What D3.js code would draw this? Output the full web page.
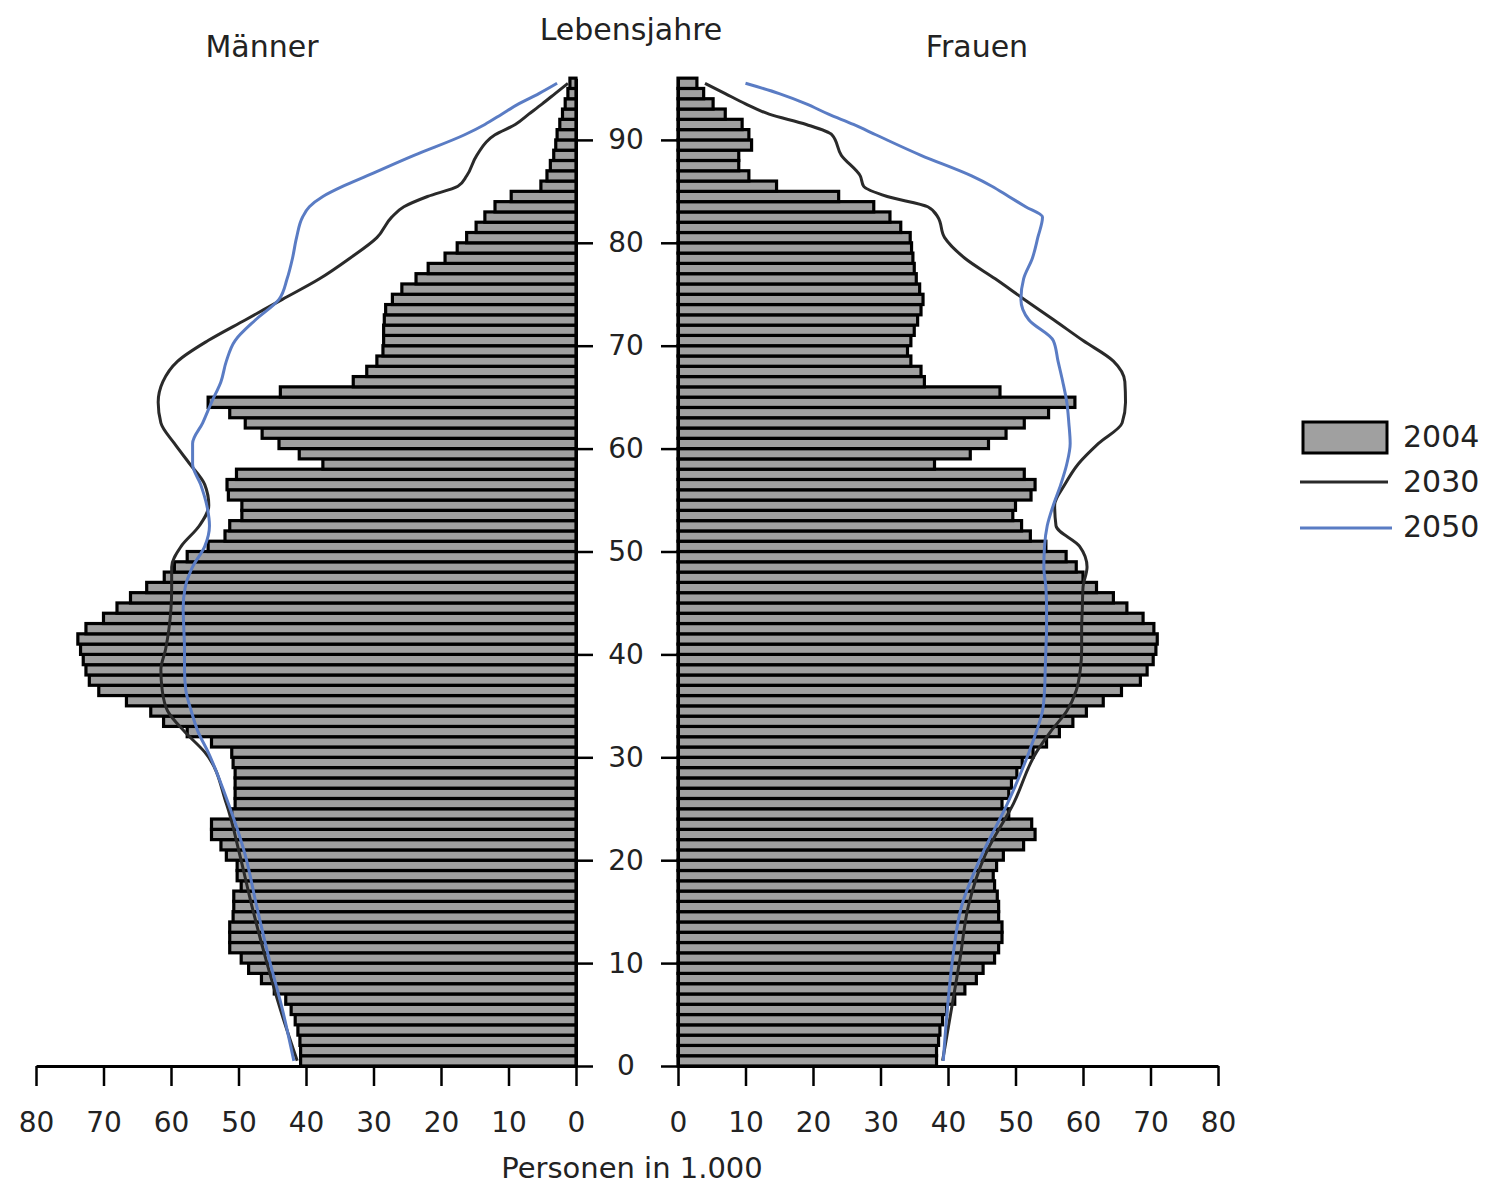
<!DOCTYPE html>
<html>
<head>
<meta charset="utf-8">
<script src="https://cdn.jsdelivr.net/npm/d3@7"></script>
<style>
  body { margin: 0; background: #fff; }
  text { font-family: "DejaVu Sans", "Liberation Sans", sans-serif; fill: #222; }
</style>
</head>
<body>
<div id="chart"></div>
<script>
// Altersjahre 0..95 (Balken 2004)
const ages = d3.range(0, 96);

// Bevölkerung 2004 in 1.000, je Altersjahr
const men2004 = [
  40.8, 40.8, 40.9, 41.2, 41.6, 42.2, 43.0, 44.7, 46.6, 48.5,
  49.6, 51.3, 51.3, 51.3, 50.8, 50.7, 50.7, 49.6, 50.2, 50.2,
  51.8, 52.6, 54.0, 54.0, 51.0, 50.5, 50.5, 50.5, 50.5, 50.8,
  51.0, 54.0, 57.6, 61.1, 63.0, 66.6, 70.7, 72.1, 72.6, 73.0,
  73.4, 73.8, 72.6, 70.0, 68.0, 66.0, 63.6, 61.0, 59.5, 57.6,
  54.5, 52.0, 51.3, 49.5, 49.5, 51.5, 51.7, 50.3, 37.5, 41.0,
  44.0, 46.5, 49.0, 51.3, 54.5, 43.8, 33.0, 31.0, 29.5, 28.6,
  28.5, 28.5, 28.4, 28.2, 27.2, 25.8, 23.7, 21.9, 19.4, 17.6,
  16.2, 14.8, 13.5, 12.0, 9.6, 5.2, 4.3, 3.8, 3.3, 3.0,
  2.8, 2.4, 2.0, 1.6, 1.2, 0.9
];
const women2004 = [
  38.3, 38.3, 38.6, 38.8, 39.2, 39.8, 41.0, 42.5, 44.2, 45.2,
  46.9, 47.5, 48.0, 48.0, 47.5, 47.5, 47.3, 46.9, 46.7, 47.2,
  48.2, 51.2, 52.9, 52.4, 49.0, 48.0, 49.0, 49.4, 50.2, 51.0,
  52.6, 54.6, 56.5, 58.5, 60.5, 63.0, 65.7, 68.5, 69.5, 70.4,
  70.8, 71.0, 70.5, 68.9, 66.5, 64.5, 62.0, 60.0, 59.0, 57.5,
  54.5, 52.2, 50.9, 49.6, 50.0, 52.3, 52.9, 51.3, 38.0, 43.3,
  46.0, 48.6, 51.3, 54.9, 58.8, 47.7, 36.5, 36.0, 34.5, 34.0,
  34.5, 35.0, 35.5, 36.0, 36.3, 35.8, 35.3, 35.0, 34.8, 34.6,
  34.4, 33.0, 31.4, 29.0, 23.8, 14.6, 10.5, 9.0, 9.0, 10.9,
  10.5, 9.5, 7.0, 5.2, 3.8, 2.8
];

const lineAges = [0, 5, 10, 15, 20, 25, 30, 32, 34, 36, 38, 40, 42, 44, 46, 48, 50,
  52, 54, 56, 58, 60, 62, 64, 66, 68, 70, 72, 74, 76, 78, 80, 82, 83, 84, 85, 86,
  88, 90, 91, 92, 93, 94, 95];
const men2030 = [41.3, 43.8, 46.0, 48.0, 49.8, 51.8, 55.0, 58.0, 60.5, 61.3, 61.5, 60.8,
  60.3, 60.0, 59.9, 59.9, 58.5, 55.8, 54.4, 55.0, 57.2, 59.5, 61.5, 61.9, 61.2, 59.0,
  54.5, 49.0, 43.5, 38.0, 33.5, 29.5, 27.3, 25.5, 22.0, 17.5, 16.2, 14.7, 12.0, 9.0,
  7.0, 5.0, 3.1, 1.2];
const men2050 = [41.8, 43.5, 45.5, 47.3, 49.0, 51.5, 54.5, 56.0, 57.0, 57.8, 58.0, 58.0,
  58.1, 58.2, 57.9, 56.8, 55.0, 54.3, 54.7, 55.6, 56.8, 56.8, 55.3, 54.0, 52.6, 51.8,
  50.5, 47.5, 44.0, 42.8, 42.0, 41.4, 40.5, 39.5, 37.5, 34.5, 31.0, 24.0, 16.5, 13.5,
  11.0, 8.5, 5.5, 2.8];
const women2030 = [39.2, 40.5, 41.8, 43.0, 45.5, 49.7, 53.1, 55.2, 57.6, 59.0, 59.6, 59.8,
  59.8, 59.9, 60.0, 60.6, 59.5, 56.0, 55.8, 57.3, 59.3, 62.3, 65.8, 66.3, 66.2, 64.5,
  60.0, 55.7, 51.3, 47.0, 42.5, 39.5, 38.5, 37.0, 31.0, 27.5, 27.0, 24.2, 22.8, 19.0,
  13.5, 10.0, 7.0, 4.0];
const women2050 = [39.3, 39.9, 40.7, 42.0, 45.0, 48.8, 52.0, 53.1, 54.0, 54.3, 54.4, 54.5,
  54.6, 54.6, 54.5, 54.2, 54.3, 54.7, 55.6, 56.7, 57.6, 58.1, 57.9, 57.6, 57.0, 56.3,
  55.6, 52.0, 50.8, 51.2, 52.5, 53.3, 54.0, 51.5, 49.0, 46.5, 43.5, 36.0, 29.3, 26.0,
  22.3, 19.0, 15.0, 10.0];

const xTicks = [0, 10, 20, 30, 40, 50, 60, 70, 80];
const ageTicks = [0, 10, 20, 30, 40, 50, 60, 70, 80, 90];
const legendLabels = ["2004", "2030", "2050"];

const W = 1498, H = 1185;
const GRAY = "#a0a0a0", DARK = "#2a2a2a", BLUE = "#5a7cc4";

const svg = d3.select("#chart").append("svg")
  .attr("width", W).attr("height", H)
  .style("background", "#fff");

const xL = d3.scaleLinear().domain([0, 80]).range([576, 36]);
const xR = d3.scaleLinear().domain([0, 80]).range([678, 1218]);
const y  = d3.scaleLinear().domain([0, 96]).range([1066, 1066 - 96 * 10.29]);
const barH = y(0) - y(1);

// --- Balken 2004 ---
const bars = svg.append("g");
bars.selectAll("rect.m").data(ages).join("rect").attr("class", "m")
  .attr("x", a => xL(men2004[a])).attr("y", a => y(a + 1))
  .attr("width", a => xL(0) - xL(men2004[a])).attr("height", barH)
  .attr("fill", GRAY).attr("stroke", "#000").attr("stroke-width", 3.2);
bars.selectAll("rect.w").data(ages).join("rect").attr("class", "w")
  .attr("x", xR(0)).attr("y", a => y(a + 1))
  .attr("width", a => xR(women2004[a]) - xR(0)).attr("height", barH)
  .attr("fill", GRAY).attr("stroke", "#000").attr("stroke-width", 3.2);

// --- Achsen ---
function styleAxis(g) {
  g.attr("font-size", 28).attr("font-family", "DejaVu Sans, sans-serif");
  g.select(".domain").attr("stroke", "#000").attr("stroke-width", 3);
  g.selectAll(".tick line").attr("stroke", "#000").attr("stroke-width", 2.5);
  g.selectAll(".tick text").attr("fill", "#222");
}
svg.append("g").attr("transform", `translate(0,${y(0)})`)
  .call(d3.axisBottom(xL).tickValues(xTicks).tickSize(20).tickSizeOuter(0).tickPadding(26))
  .call(styleAxis);
svg.append("g").attr("transform", `translate(0,${y(0)})`)
  .call(d3.axisBottom(xR).tickValues(xTicks).tickSize(20).tickSizeOuter(0).tickPadding(26))
  .call(styleAxis);

svg.append("g").attr("transform", `translate(${xL(0)},0)`)
  .call(d3.axisRight(y).tickValues(ageTicks).tickSize(17).tickSizeOuter(0))
  .call(styleAxis)
  .call(g => g.selectAll(".tick text").attr("x", 50).attr("text-anchor", "middle"));
svg.append("g").attr("transform", `translate(${xR(0)},0)`)
  .call(d3.axisLeft(y).tickValues(ageTicks).tickSize(17).tickSizeOuter(0).tickFormat(""))
  .call(styleAxis);

// --- Linien 2030 / 2050 ---
const lineFor = (scale, vals) => d3.line()
  .x((d, i) => scale(vals[i]))
  .y(d => y(d + 0.5))
  .curve(d3.curveMonotoneY)(lineAges);

const lines = [
  { scale: xL, vals: men2030, color: DARK },
  { scale: xR, vals: women2030, color: DARK },
  { scale: xL, vals: men2050, color: BLUE },
  { scale: xR, vals: women2050, color: BLUE }
];
svg.append("g").selectAll("path").data(lines).join("path")
  .attr("d", d => lineFor(d.scale, d.vals))
  .attr("fill", "none").attr("stroke", d => d.color)
  .attr("stroke-width", 3).attr("stroke-linejoin", "round");

// --- Beschriftung ---
svg.append("text").attr("x", 631).attr("y", 40).attr("text-anchor", "middle")
  .attr("font-size", 30).text("Lebensjahre");
svg.append("text").attr("x", 262).attr("y", 57).attr("text-anchor", "middle")
  .attr("font-size", 30).text("Männer");
svg.append("text").attr("x", 977).attr("y", 57).attr("text-anchor", "middle")
  .attr("font-size", 30).text("Frauen");
svg.append("text").attr("x", 632).attr("y", 1178).attr("text-anchor", "middle")
  .attr("font-size", 29).text("Personen in 1.000");

// --- Legende ---
const lg = svg.append("g");
lg.append("rect").attr("x", 1303).attr("y", 422).attr("width", 84).attr("height", 31)
  .attr("fill", GRAY).attr("stroke", "#000").attr("stroke-width", 3);
lg.append("line").attr("x1", 1300).attr("x2", 1388).attr("y1", 482).attr("y2", 482)
  .attr("stroke", DARK).attr("stroke-width", 3);
lg.append("line").attr("x1", 1300).attr("x2", 1392).attr("y1", 528).attr("y2", 528)
  .attr("stroke", BLUE).attr("stroke-width", 3);
lg.selectAll("text").data(legendLabels).join("text")
  .attr("x", 1403).attr("y", (d, i) => [447, 492, 537][i])
  .attr("font-size", 30).text(d => d);
</script>
</body>
</html>
